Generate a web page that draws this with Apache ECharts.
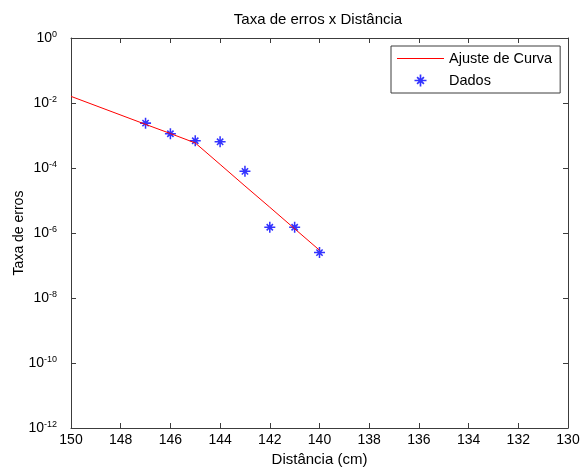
<!DOCTYPE html>
<html>
<head>
<meta charset="utf-8">
<script src="https://cdn.jsdelivr.net/npm/echarts@6/dist/echarts.min.js"></script>
<style>
  html, body { margin: 0; padding: 0; background: #fff; }
  #chart { width: 581px; height: 467px; }
</style>
</head>
<body>
<div id="chart"></div>
<script>
// dados medidos
var distancias = [147, 146, 145, 144, 143, 142, 141, 140];
var taxaErros = [2.4e-3, 1.13e-3, 6.9e-4, 6.4e-4, 7.9e-5, 1.5e-6, 1.5e-6, 2.5e-7];

// curva ajustada
var ajusteX = [150, 147, 146, 145, 144, 143, 142, 141, 140];
var ajusteY = [1.6e-2, 2.2e-3, 1.15e-3, 5.9e-4, 1.29e-4, 2.8e-5, 6.2e-6, 1.35e-6, 2.95e-7];

var xTicks = [150, 148, 146, 144, 142, 140, 138, 136, 134, 132, 130];
var yExpoentes = [0, -2, -4, -6, -8, -10, -12];

var fonte = 'Liberation Sans, Arial, sans-serif';
var corEixo = '#3c3c3c';

var estrela = 'path://M8.6 0 L11.4 0 L11.4 20 L8.6 20 Z M0 8.6 L20 8.6 L20 11.4 L0 11.4 Z ' +
    'M3.3 5.3 L5.3 3.3 L16.7 14.7 L14.7 16.7 Z M14.7 3.3 L16.7 5.3 L5.3 16.7 L3.3 14.7 Z';

var chart = echarts.init(document.getElementById('chart'));

var dadosAjuste = ajusteX.map(function (x, i) { return [x, ajusteY[i]]; });
var dadosMedidos = distancias.map(function (x, i) { return [x, taxaErros[i]]; });

var eixoX = function (pos, comLabel) {
    return {
        type: 'value',
        position: pos,
        inverse: true,
        min: xTicks[xTicks.length - 1],
        max: xTicks[0],
        interval: 2,
        name: comLabel ? 'Distância (cm)' : '',
        nameLocation: 'middle',
        nameGap: 19,
        nameTextStyle: { fontFamily: fonte, fontSize: 15, color: '#000' },
        axisLine: { show: true, onZero: false, lineStyle: { color: corEixo, width: 1 } },
        axisTick: { show: true, inside: true, length: 5, lineStyle: { color: corEixo } },
        axisLabel: { show: comLabel, margin: 5, fontFamily: fonte, fontSize: 14, color: '#000' },
        splitLine: { show: false }
    };
};

var eixoY = function (pos, comLabel) {
    return {
        type: 'log',
        logBase: 10,
        position: pos,
        min: Math.pow(10, yExpoentes[yExpoentes.length - 1]),
        max: Math.pow(10, yExpoentes[0]),
        interval: 2,
        name: comLabel ? 'Taxa de erros' : '',
        nameLocation: 'middle',
        nameGap: 45,
        nameMoveOverlap: false,
        nameTextStyle: { fontFamily: fonte, fontSize: 14, color: '#000' },
        axisLine: { show: true, onZero: false, lineStyle: { color: corEixo, width: 1 } },
        axisTick: { show: true, inside: true, length: 5, lineStyle: { color: corEixo } },
        axisLabel: {
            show: comLabel,
            margin: 14,
            formatter: function (v) {
                var e = Math.round(Math.log10(v));
                return '{b|10}{s|' + e + '}';
            },
            rich: {
                b: { fontFamily: fonte, fontSize: 14, lineHeight: 14, padding: [3, 0, 3, 0], color: '#000' },
                s: { fontFamily: fonte, fontSize: 9, lineHeight: 9, padding: [2, 0, 9, 0], color: '#000' }
            }
        },
        splitLine: { show: false }
    };
};

var option = {
    backgroundColor: '#fff',
    animation: false,
    title: {
        text: 'Taxa de erros x Distância',
        left: 318,
        top: 12,
        textAlign: 'center',
        padding: 0,
        textStyle: { fontFamily: fonte, fontSize: 15, fontWeight: 'normal', color: '#000' }
    },
    grid: { left: 71, right: 13, top: 38, bottom: 39, containLabel: false, outerBoundsMode: 'none' },
    legend: {
        orient: 'vertical',
        left: 391,
        top: 46,
        padding: [5, 8, 5, 6],
        itemWidth: 47,
        itemHeight: 12,
        itemGap: 7,
        borderColor: corEixo,
        borderWidth: 1,
        backgroundColor: '#fff',
        textStyle: { fontFamily: fonte, fontSize: 14.5, color: '#000' },
        data: [
            { name: 'Ajuste de Curva', icon: 'path://M0 0 L47 0 L47 1 L0 1 Z', itemStyle: { color: '#ff0000', borderWidth: 0 } },
            { name: 'Dados' }
        ]
    },
    xAxis: [eixoX('bottom', true), eixoX('top', false)],
    yAxis: [eixoY('left', true), eixoY('right', false)],
    series: [
        {
            name: 'Ajuste de Curva',
            type: 'line',
            data: dadosAjuste,
            symbol: 'none',
            lineStyle: { color: '#ff0000', width: 1 },
            itemStyle: { color: '#ff0000' }
        },
        {
            name: 'Dados',
            type: 'scatter',
            data: dadosMedidos,
            symbol: estrela,
            symbolSize: 11,
            itemStyle: { color: '#0000ff' }
        }
    ]
};

chart.setOption(option);
</script>
</body>
</html>
